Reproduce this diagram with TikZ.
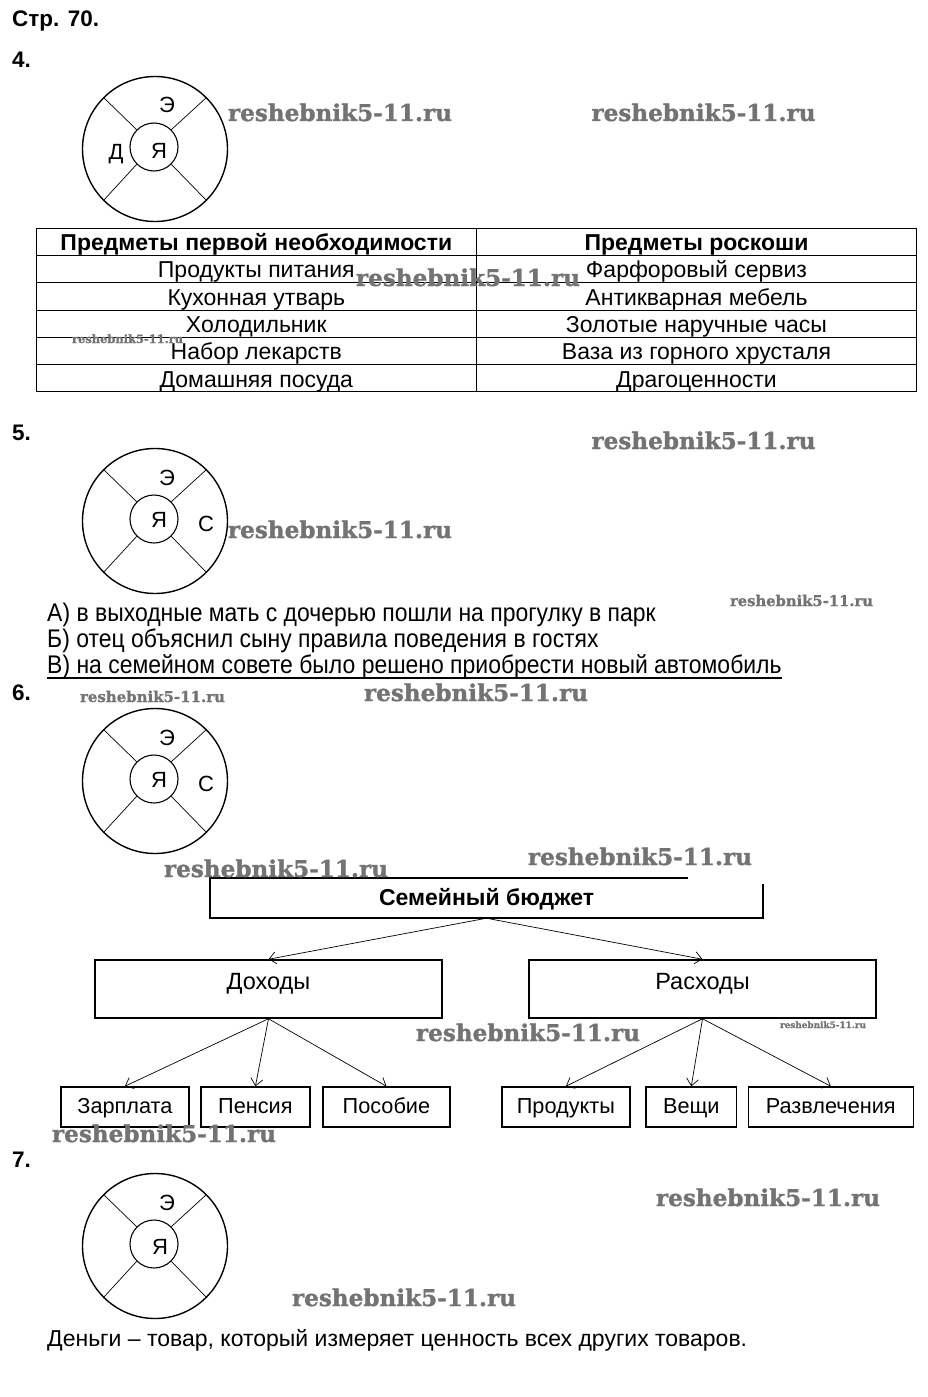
\documentclass[tikz,border=0pt]{standalone}
\usepackage{fontspec}
\setmainfont{Liberation Sans}
\newfontfamily\wmfont[FakeBold=1.2]{DejaVu Serif Bold}
\newfontfamily\narrowsans[FakeStretch=0.9]{Liberation Sans}
\usetikzlibrary{arrows.meta}
\definecolor{wmgray}{RGB}{115,115,115}
\newcommand\wmark[1]{\resizebox{#1pt}{!}{\wmfont reshebnik5-11.ru}}
\tikzset{
  wheel/.pic={
    \node[circle,draw,line width=1.4pt,minimum size=145pt,inner sep=0pt] (-o) at (0,0) {};
    \node[circle,draw,line width=1.1pt,minimum size=48pt,inner sep=0pt] (-i) at (-1,-2) {};
    \foreach \a in {45,135,225,315} \draw[line width=0.7pt] (-i.\a) -- (-o.\a);
  },
  lett/.style={inner sep=0pt,font=\fontsize{22}{24}\selectfont},
  num/.style={anchor=base west,inner sep=0pt,font=\bfseries\fontsize{22.5}{26}\selectfont},
  cell/.style={anchor=base,inner sep=0pt,font=\fontsize{23}{26}\selectfont},
  hcell/.style={anchor=base,inner sep=0pt,font=\bfseries\fontsize{23}{26}\selectfont},
  txt/.style={anchor=base west,inner sep=0pt,font=\narrowsans\fontsize{25.5}{26}\selectfont},
  bigbox/.style={draw,line width=1.5pt,minimum width=347pt,minimum height=58pt,inner sep=0pt},
  smallbox/.style={draw,line width=1.5pt,minimum height=40pt,inner sep=0pt,text height=15.5pt,text depth=2pt,font=\fontsize{21.7}{24}\selectfont},
  arr/.style={line width=0.7pt,-{Straight Barb[length=7pt,width=12pt]}},
  wm/.style={anchor=base,inner sep=0pt,text=wmgray},
  tline/.style={line width=0.8pt}
}
\begin{document}
\begin{tikzpicture}[x=1pt,y=-1pt]
\useasboundingbox[fill=white] (0,0) rectangle (928,1397);

% titles
\node[num] (title) at (12,27) {Стр. 70.};
\node[num] (n4) at (12,67) {4.};
\node[num] (n5) at (12,440) {5.};
\node[num] (n6) at (12,700) {6.};
\node[num] (n7) at (12,1167) {7.};

% wheel 1
\pic (w1) at (155,149) {wheel};
\node[lett] (w1e) at (167,105) {Э};
\node[lett] (w1d) at (116,154) {Д};
\node[lett] (w1y) at (159,151) {Я};

% table
\draw[tline] (36,228.5) rectangle (916.5,391.7);
\foreach \yy in {255,282.3,310,337.3,364.3} \draw[tline] (36,\yy) -- (916.5,\yy);
\draw[tline] (476.5,228.5) -- (476.5,391.7);
\node[hcell] (h1) at (256.3,250.5) {Предметы первой необходимости};
\node[hcell] (h2) at (696.5,250.5) {Предметы роскоши};
\node[cell] (a1) at (256.3,277.5) {Продукты питания};
\node[cell] (a2) at (256.3,305) {Кухонная утварь};
\node[cell] (a3) at (256.3,332) {Холодильник};
\node[cell] (a4) at (256.3,359.5) {Набор лекарств};
\node[cell] (a5) at (256.3,387) {Домашняя посуда};
\node[cell] (b1) at (696.5,277.5) {Фарфоровый сервиз};
\node[cell] (b2) at (696.5,305) {Антикварная мебель};
\node[cell] (b3) at (696.5,332) {Золотые наручные часы};
\node[cell] (b4) at (696.5,359.5) {Ваза из горного хрусталя};
\node[cell] (b5) at (696.5,387) {Драгоценности};

% wheel 2
\pic (w2) at (155,521) {wheel};
\node[lett] (w2e) at (167,478) {Э};
\node[lett] (w2y) at (159,520) {Я};
\node[lett] (w2c) at (206,524) {С};

% statements
\node[txt] (l1) at (47,621) {А) в выходные мать с дочерью пошли на прогулку в парк};
\node[txt] (l2) at (47,647) {Б) отец объяснил сыну правила поведения в гостях};
\node[txt] (l3) at (47,673) {В) на семейном совете было решено приобрести новый автомобиль};
\draw[line width=1.1pt] ([yshift=-5pt]l3.base west) -- ([yshift=-5pt]l3.base east);

% wheel 3
\pic (w3) at (155,781) {wheel};
\node[lett] (w3e) at (167,738) {Э};
\node[lett] (w3y) at (159,780) {Я};
\node[lett] (w3c) at (206,784) {С};

% budget tree
\node[minimum width=553pt,minimum height=40pt,inner sep=0pt] (sb) at (486.5,898) {};
\draw[line width=1.5pt] ([xshift=478pt]sb.north west) -- (sb.north west) -- (sb.south west) -- (sb.south east) -- ([yshift=-6pt]sb.north east);
\node[inner sep=0pt,font=\bfseries\fontsize{23}{26}\selectfont] (sbt) at (486.5,899) {Семейный бюджет};

\node[bigbox] (inc) at (268.5,989) {};
\node[inner sep=0pt,font=\fontsize{23.5}{26}\selectfont] (inct) at (268.5,983.5) {Доходы};
\node[bigbox] (exp) at (702.5,989) {};
\node[inner sep=0pt,font=\fontsize{23.5}{26}\selectfont] (expt) at (702.5,983.5) {Расходы};

\node[smallbox,minimum width=128.3pt] (zp) at (124.9,1107) {Зарплата};
\node[smallbox,minimum width=109.3pt] (pn) at (255.4,1107) {Пенсия};
\node[smallbox,minimum width=127.3pt] (pb) at (386.4,1107) {Пособие};
\node[smallbox,minimum width=128.3pt] (pr) at (565.9,1107) {Продукты};
\node[smallbox,minimum width=90.7pt] (vs) at (691.3,1107) {Вещи};
\node[smallbox,minimum width=165pt] (rz) at (830.8,1107) {Развлечения};

\draw[arr] (sb.south) -- (inc.north);
\draw[arr] (sb.south) -- (exp.north);
\draw[arr] (inc.south) -- (zp.north);
\draw[arr] (inc.south) -- (pn.north);
\draw[arr] (inc.south) -- (pb.north);
\draw[arr] (exp.south) -- (pr.north);
\draw[arr] (exp.south) -- (vs.north);
\draw[arr] (exp.south) -- (rz.north);

% wheel 4
\pic (w4) at (155,1246) {wheel};
\node[lett] (w4e) at (167,1203) {Э};
\node[lett] (w4y) at (160,1247) {Я};

\node[anchor=base west,inner sep=0pt,font=\fontsize{23}{26}\selectfont] (money) at (47,1346) {Деньги – товар, который измеряет ценность всех других товаров.};

% watermarks
\node[wm] (m1) at (340,121) {\wmark{224}};
\node[wm] (m2) at (703.5,121) {\wmark{224}};
\node[wm] (m3) at (468,286) {\wmark{224}};
\node[wm] (m4) at (127.5,343) {\wmark{111}};
\node[wm] (m5) at (703.5,449) {\wmark{224}};
\node[wm] (m6) at (340,538) {\wmark{224}};
\node[wm] (m7) at (801.5,606) {\wmark{143}};
\node[wm] (m8) at (152.5,702) {\wmark{145}};
\node[wm] (m9) at (476,701) {\wmark{224}};
\node[wm] (m10) at (276,877) {\wmark{224}};
\node[wm] (m11) at (640,865) {\wmark{224}};
\node[wm] (m12) at (528,1041) {\wmark{224}};
\node[wm] (m13) at (823,1028) {\wmark{86}};
\node[wm] (m14) at (164,1142) {\wmark{224}};
\node[wm] (m15) at (768,1206) {\wmark{224}};
\node[wm] (m16) at (404,1306) {\wmark{224}};
\end{tikzpicture}
\end{document}
